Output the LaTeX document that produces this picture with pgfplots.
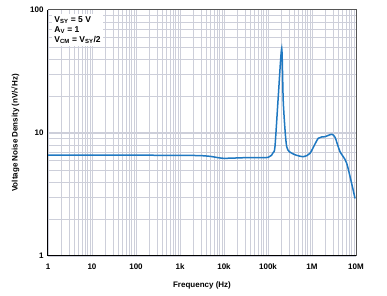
\documentclass[border=0pt]{standalone}
\usepackage{fontspec}
\setmainfont{Liberation Sans}
\usepackage{pgfplots}
\pgfplotsset{compat=1.18}
\definecolor{gridc}{HTML}{CDCFDA}
\definecolor{curve}{HTML}{1F78C1}
\definecolor{frame}{HTML}{555555}
\begin{document}
\begin{tikzpicture}
\begin{axis}[
  at={(0,0)}, anchor=south west,
  scale only axis, width=308pt, height=246pt,
  xmode=log, ymode=log, xmin=1, xmax=1e7, ymin=1, ymax=100,
  xtick={1,10,100,1000,1e4,1e5,1e6,1e7},
  xticklabels={1,10,100,1k,10k,100k,1M,10M},
  ytick={1,10,100}, yticklabels={1,10,100},
  grid=both,
  major grid style={gridc, line width=1pt},
  minor grid style={gridc, line width=0.7pt},
  tick style={draw=none},
  axis line style={draw=none},
  ticklabel style={font=\fontsize{8}{9}\selectfont\bfseries},
  xticklabel style={yshift=-4pt},
  yticklabel style={xshift=-1pt},
  xlabel={Frequency (Hz)},
  ylabel={Voltage Noise Density (nV/√Hz)},
  label style={font=\fontsize{8}{9}\selectfont\bfseries},
  xlabel style={yshift=-5pt},
  ylabel style={yshift=4pt},
  clip=false,
]
\addplot[curve, line width=1.5pt, smooth, tension=0.4] coordinates {
 (1,6.6) (10,6.6) (100,6.6) (1000,6.58) (2850,6.55) (5000,6.45) (9600,6.23)
 (30000,6.3) (101000,6.34) (130000,6.9) (144000,7.74) (171000,19.7)
 (205000,48.8) (223000,17.5) (266000,7.74) (376000,6.75) (634000,6.42)
 (901000,6.84) (1390000,9.06) (1970000,9.33) (2800000,9.76) (3340000,9.23)
 (4330000,7.05) (6150000,5.67) (9500000,2.94)
};
\draw[black, line width=1pt] (rel axis cs:0,1) -- (rel axis cs:0,0) -- (rel axis cs:1,0);
\draw[frame, line width=1pt] (rel axis cs:0,1) -- (rel axis cs:1,1) -- (rel axis cs:1,0);
\node[fill=white, anchor=north west, align=left, inner sep=2.5pt,
      font=\fontsize{8.5}{10}\selectfont\bfseries] at (rel axis cs:0.012,0.985)
  {V\textsubscript{SY} = 5 V\\ A\textsubscript{V} = 1\\ V\textsubscript{CM} = V\textsubscript{SY}/2};
\end{axis}
\pgfresetboundingbox
\useasboundingbox (-48pt,-40pt) rectangle (339pt,256pt);
\end{tikzpicture}
\end{document}
